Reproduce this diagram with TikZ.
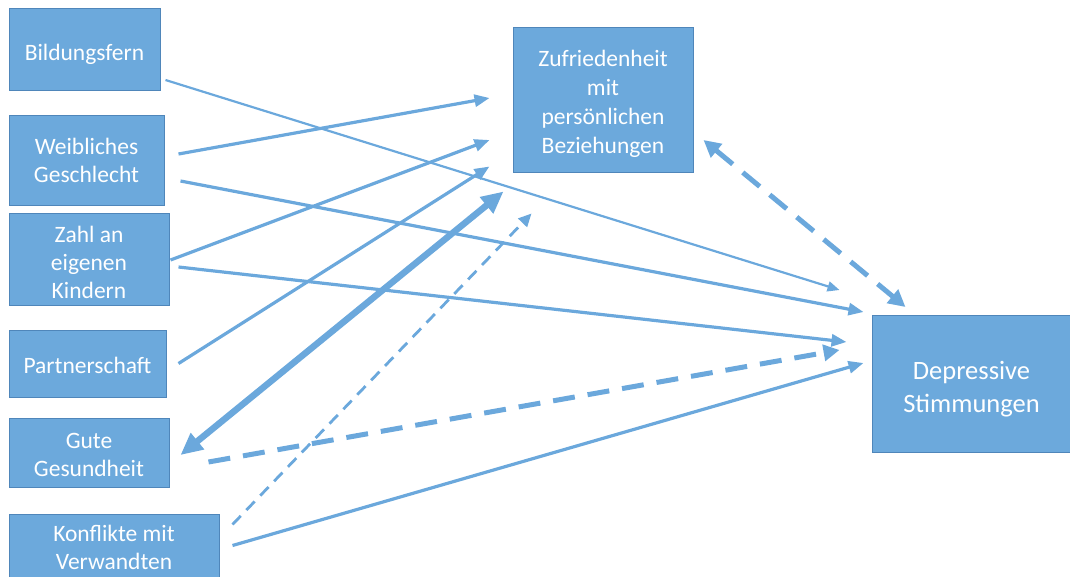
\documentclass[tikz,border=0pt]{standalone}
\usepackage{fontspec}
\setmainfont{Carlito}
\usetikzlibrary{arrows.meta}
\definecolor{boxfill}{HTML}{6CA9DC}
\definecolor{boxline}{HTML}{4F86BA}
\definecolor{arr}{HTML}{6BA8DC}
\newcommand{\lift}[1]{\rule{0pt}{#1pt}}
\begin{document}
\begin{tikzpicture}[x=1pt,y=-1pt,
  bx/.style={draw=boxline,fill=boxfill,line width=1pt,inner sep=0pt,text=white,align=center,
    font=\fontsize{23.5}{28}\selectfont},
  thinarr/.style={draw=arr,line width=2.2pt,-{Triangle[length=12pt,width=10pt]}},
  medarr/.style={draw=arr,line width=3.2pt,-{Triangle[length=15pt,width=12pt]}},
  thickarr/.style={draw=arr,line width=6.5pt,{Triangle[length=22pt,width=20pt]}-{Triangle[length=22pt,width=20pt]}},
  dashthick/.style={draw=arr,line width=5pt,dash pattern=on 22pt off 13pt},
  dashthin/.style={draw=arr,line width=2.8pt,dash pattern=on 12pt off 8pt,-{Triangle[length=13pt,width=12pt]}}]
\useasboundingbox (0,0) rectangle (1070,576);
\node[bx,minimum width=151pt,minimum height=82pt] (bild) at (84.5,49) {\lift{26.5}Bildungsfern};
\node[bx,minimum width=155pt,minimum height=90pt] (weib) at (86.5,160) {Weibliches\\Geschlecht};
\node[bx,minimum width=160pt,minimum height=92pt] (zahl) at (89,259) {\lift{22.5}Zahl an\\eigenen\\Kindern};
\node[bx,minimum width=157pt,minimum height=67pt] (part) at (87.5,363.5) {\lift{20.5}Partnerschaft};
\node[bx,minimum width=160pt,minimum height=69pt] (gute) at (89,452.5) {\lift{19.5}Gute\\Gesundheit};
\node[bx,minimum width=210pt,minimum height=63pt] (konf) at (114,545.5) {\lift{20.5}Konflikte mit\\Verwandten};
\node[bx,minimum width=180pt,minimum height=145pt,font=\fontsize{23.5}{29}\selectfont] (zuf) at (603,99.5) {\lift{24.5}Zufriedenheit\\mit\\persönlichen\\Beziehungen};
\node[bx,minimum width=199pt,minimum height=137pt,font=\fontsize{26.5}{33}\selectfont] (dep) at (971.5,384) {\lift{28.6}Depressive\\Stimmungen};
% connectors
\draw[thinarr] ([shift={(5,31)}]bild.east) -- ([shift={(-32,-25)}]dep.north west);
\draw[medarr] ([shift={(14,-6)}]weib.east) -- ([shift={(-23,-1.5)}]zuf.west);
\draw[medarr] ([shift={(16,21)}]weib.east) -- ([shift={(-8,-3)}]dep.north west);
\draw[medarr] ([shift={(1,1)}]zahl.east) -- ([shift={(-23,40.5)}]zuf.west);
\draw[medarr] ([shift={(9,8)}]zahl.east) -- ([shift={(-25,-42)}]dep.west);
\draw[medarr] ([shift={(12,0)}]part.east) -- ([shift={(-23,-6)}]zuf.south west);
\draw[thickarr] ([shift={(-9,19)}]zuf.south west) -- ([shift={(11,2.5)}]gute.east);
\draw[dashthick,-{Triangle[length=16pt,width=16pt]}] ([shift={(39,9.5)}]gute.east) -- ([shift={(-32,-34)}]dep.west);
\draw[dashthin] ([shift={(13,11)}]konf.north east) -- ([shift={(19,41)}]zuf.south west);
\draw[medarr] ([shift={(13,0)}]konf.east) -- ([shift={(-8,-21)}]dep.west);
\draw[dashthick,{Triangle[length=17pt,width=17pt]}-{Triangle[length=17pt,width=17pt]}] ([shift={(10,40.5)}]zuf.east) -- ([shift={(-66,-8)}]dep.north);
\end{tikzpicture}
\end{document}
